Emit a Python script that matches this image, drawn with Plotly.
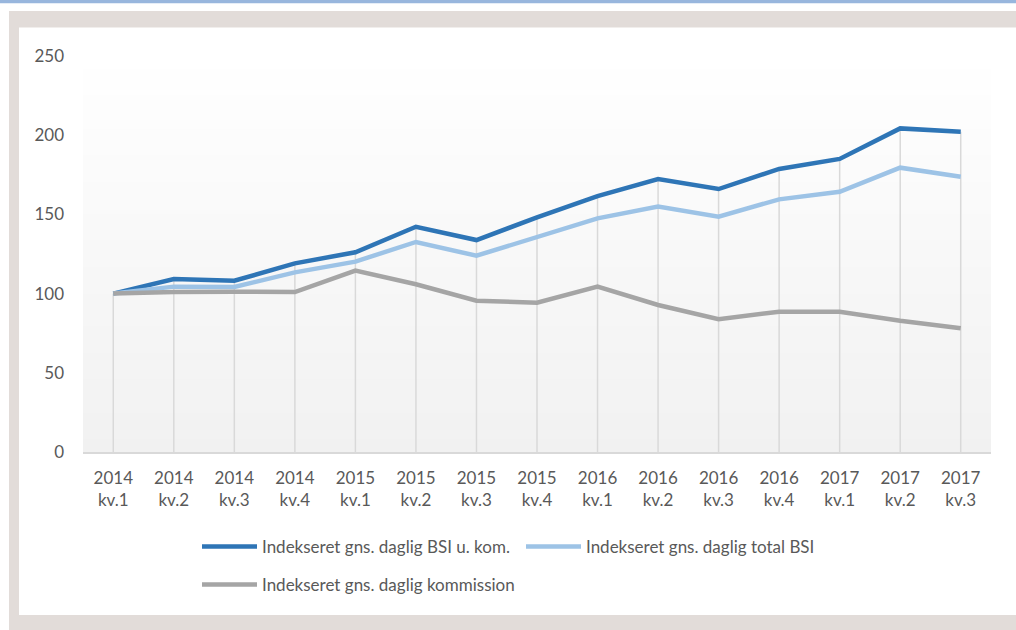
import plotly.graph_objects as go

categories = ["2014<br>kv.1", "2014<br>kv.2", "2014<br>kv.3", "2014<br>kv.4",
              "2015<br>kv.1", "2015<br>kv.2", "2015<br>kv.3", "2015<br>kv.4",
              "2016<br>kv.1", "2016<br>kv.2", "2016<br>kv.3", "2016<br>kv.4",
              "2017<br>kv.1", "2017<br>kv.2", "2017<br>kv.3"]

bsi_u_kom = [100, 109.2, 108.1, 119.1, 126.1, 142.2, 133.8, 148.1, 161.6, 172.3,
             166.0, 178.7, 185.0, 204.3, 202.2]
total_bsi = [100, 104.4, 104.2, 113.4, 120.2, 132.6, 123.9, 135.5, 147.5, 154.9,
             148.6, 159.5, 164.3, 179.5, 173.8]
kommission = [100, 101.0, 101.2, 101.0, 114.5, 105.9, 95.5, 94.3, 104.4, 92.8,
              83.8, 88.6, 88.6, 82.9, 78.1]

names = ["Indekseret gns. daglig BSI u. kom.",
         "Indekseret gns. daglig total BSI",
         "Indekseret gns. daglig kommission"]
colors = ["#2e75b6", "#9dc3e6", "#a5a5a5"]
y_ticks = [0, 50, 100, 150, 200, 250]

W, H = 1016, 630
L, R, T, B = 83, 25, 56, 178
PW, PH = W - L - R, H - T - B
FONT = "Lato"
TXT = "#595959"

def px(x):
    return (x - L) / PW

def py(y):
    return (H - B - y) / PH

fig = go.Figure()

# drop lines from the highest series down to the axis
dx, dy = [], []
for i, c in enumerate(categories):
    top = max(bsi_u_kom[i], total_bsi[i], kommission[i])
    dx += [c, c, c]
    dy += [0, top, None]
fig.add_trace(go.Scatter(x=dx, y=dy, mode="lines", showlegend=False, hoverinfo="skip",
                         line=dict(color="#d9d9d9", width=1.5)))

series = [bsi_u_kom, total_bsi, kommission]
legends = ["legend", "legend", "legend2"]
for s, n, col, lg in zip(series, names, colors, legends):
    fig.add_trace(go.Scatter(x=categories, y=s, name=n, mode="lines", legend=lg,
                             line=dict(color=col, width=4.5)))

shapes = []
# outer frame
shapes.append(dict(type="rect", xref="paper", yref="paper", x0=px(0), x1=px(W + 2), y0=py(0), y1=py(H),
                   fillcolor="#ffffff", line_width=0, layer="below"))
shapes.append(dict(type="rect", xref="paper", yref="paper", x0=px(9), x1=px(W + 2), y0=py(11), y1=py(H + 2),
                   fillcolor="#e2dcd9", line_width=0, layer="below"))
shapes.append(dict(type="rect", xref="paper", yref="paper", x0=px(0), x1=px(W + 2), y0=py(-2), y1=py(3.3),
                   fillcolor="#98b6dd", line_width=0, layer="below"))
shapes.append(dict(type="rect", xref="paper", yref="paper", x0=px(19), x1=px(W + 2), y0=py(27.5), y1=py(615),
                   fillcolor="#ffffff", line_width=0, layer="below"))
# plot-area gradient
N = 60
for k in range(N):
    t = (k + 0.5) / N  # 0 at bottom, 1 at top
    v = int(round(241 + (255 - 241) * t))
    shapes.append(dict(type="rect", xref="x domain", yref="y domain", x0=0, x1=1,
                       y0=k / N, y1=(k + 1) / N + 0.002,
                       fillcolor=f"rgb({v},{v},{v})", line_width=0, layer="below"))

fig.update_layout(
    width=W, height=H,
    margin=dict(l=L, r=R, t=T, b=B),
    paper_bgcolor="#ffffff",
    plot_bgcolor="rgba(0,0,0,0)",
    shapes=shapes,
    font=dict(family=FONT, color=TXT, size=17),
    xaxis=dict(type="category", categoryarray=categories, range=[-0.5, 14.5],
               showgrid=False, zeroline=False, showline=True, linecolor="#d9d9d9", linewidth=1.5,
               ticks="", tickfont=dict(size=17, color=TXT, family=FONT), ticklabelstandoff=10),
    yaxis=dict(range=[0, 250], tickvals=y_ticks, showgrid=False, zeroline=False, showline=False,
               ticks="", tickfont=dict(size=17, color=TXT, family=FONT), ticklabelstandoff=18),
    legend=dict(orientation="h", x=px(197), y=py(547), xanchor="left", yanchor="middle",
                bgcolor="rgba(0,0,0,0)", font=dict(size=17, color=TXT, family=FONT),
                itemwidth=55, entrywidth=254, traceorder="normal"),
    legend2=dict(orientation="h", x=px(197), y=py(585), xanchor="left", yanchor="middle",
                 bgcolor="rgba(0,0,0,0)", font=dict(size=17, color=TXT, family=FONT),
                 itemwidth=55),
    showlegend=True,
)

fig.write_html("out.html", config={"displayModeBar": False},
               post_script="document.body.style.margin='0';")
